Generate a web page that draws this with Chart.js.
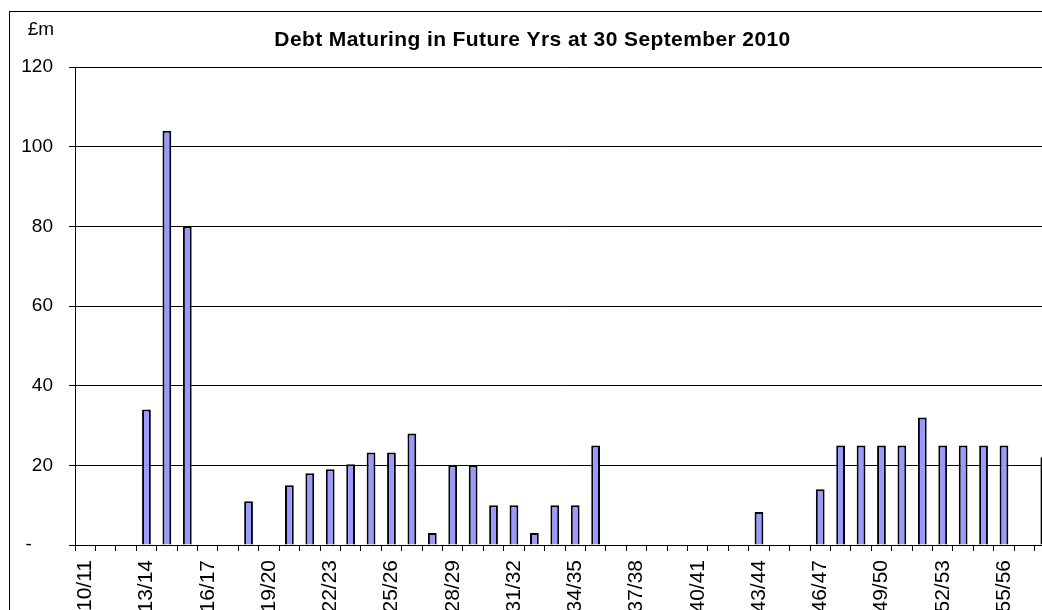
<!DOCTYPE html>
<html>
<head>
<meta charset="utf-8">
<script src="https://cdn.jsdelivr.net/npm/chart.js@4"></script>
<style>
  html, body { margin: 0; padding: 0; background: #fff; }
  #wrap { position: relative; width: 1042px; height: 610px; overflow: hidden; background: #fff; }
  #frame { position: absolute; left: 9px; top: 11px; width: 1100px; height: 700px; border: 1px solid #000; box-sizing: border-box; }
  #c { position: absolute; left: 0; top: 0; }
</style>
</head>
<body>
<div id="wrap">
  <div id="frame"></div>
  <canvas id="c" width="1079" height="680" style="width:1079px;height:680px;"></canvas>
</div>
<script>
const chartTitle = 'Debt Maturing in Future Yrs at 30 September 2010';
const unitLabel = '£m';

const categories = [
  '10/11','11/12','12/13','13/14','14/15','15/16','16/17','17/18','18/19','19/20',
  '20/21','21/22','22/23','23/24','24/25','25/26','26/27','27/28','28/29','29/30',
  '30/31','31/32','32/33','33/34','34/35','35/36','36/37','37/38','38/39','39/40',
  '40/41','41/42','42/43','43/44','44/45','45/46','46/47','47/48','48/49','49/50',
  '50/51','51/52','52/53','53/54','54/55','55/56','56/57','57/58'
];

const debtMaturing = [
  null, null, null, 34, 104, 80, null, null, 11, null,
  15, 18, 19, 20.3, 23.2, 23.2, 28, 3, 20, 20,
  10, 10, 3, 10, 10, 25, null, null, null, null,
  null, null, null, 8.3, null, null, 14, 25, 25, 25,
  25, 32, 25, 25, 25, 25, null, 22
];

const yTickValues = [0, 20, 40, 60, 80, 100, 120];

const textPlugin = {
  id: 'textPlugin',
  afterDraw(chart) {
    const ctx = chart.ctx;
    ctx.save();
    ctx.fillStyle = '#000';
    ctx.textBaseline = 'middle';
    ctx.textAlign = 'center';
    ctx.font = 'bold 21px "Liberation Sans", Arial, sans-serif';
    try { ctx.letterSpacing = '0.4px'; } catch (e) {}
    ctx.fillText(chartTitle, 532.5, 40);
    try { ctx.letterSpacing = '0px'; } catch (e) {}
    ctx.font = '19px "Liberation Sans", Arial, sans-serif';
    ctx.fillText(unitLabel, 41, 30);
    ctx.restore();
  }
};

new Chart(document.getElementById('c'), {
  type: 'bar',
  data: {
    labels: categories,
    datasets: [{
      data: debtMaturing,
      backgroundColor: '#9999FF',
      borderColor: '#000000',
      borderWidth: 2,
      barPercentage: 0.43,
      categoryPercentage: 1.0
    }]
  },
  options: {
    responsive: false,
    animation: false,
    devicePixelRatio: 1,
    layout: { padding: { left: 0, top: 67, right: 0, bottom: 0 } },
    plugins: {
      legend: { display: false },
      title: { display: false },
      tooltip: { enabled: false }
    },
    scales: {
      x: {
        offset: true,
        grid: { display: true, drawOnChartArea: false, drawTicks: true, tickLength: 6, color: '#000', offset: true },
        border: { display: true, color: '#000', width: 1 },
        ticks: {
          autoSkip: false,
          minRotation: 90,
          maxRotation: 90,
          padding: 9,
          color: '#000',
          font: { family: '"Liberation Sans", Arial, sans-serif', size: 21 },
          callback: function(value, index) { return index % 3 === 0 ? categories[index] : ''; }
        },
        afterFit(scale) { scale.height = 680 - 545; }
      },
      y: {
        min: 0,
        max: 120,
        afterBuildTicks(scale) { scale.ticks = yTickValues.map(v => ({ value: v })); },
        grid: { display: true, drawOnChartArea: true, drawTicks: true, tickLength: 6, color: '#000', lineWidth: 1 },
        border: { display: true, color: '#000', width: 1 },
        ticks: {
          padding: 16,
          color: '#000',
          font: { family: '"Liberation Sans", Arial, sans-serif', size: 19 },
          callback: function(value) { return value === 0 ? '-    ' : String(value); }
        },
        afterFit(scale) { scale.width = 75; }
      }
    }
  },
  plugins: [textPlugin]
});
</script>
</body>
</html>
